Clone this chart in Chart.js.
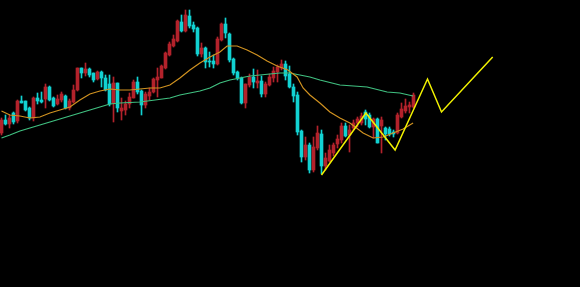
<!DOCTYPE html>
<html>
<head>
<meta charset="utf-8">
<script src="https://cdn.jsdelivr.net/npm/chart.js@4/dist/chart.umd.min.js"></script>
<style>
  html, body { margin: 0; padding: 0; background: #000; }
  #wrap { width: 580px; height: 287px; position: relative; }
</style>
</head>
<body>
<div id="wrap"><canvas id="klineChart"></canvas></div>
<script>
// daily candles (price units are arbitrary)
const opens = [167,180,176,187,179,199,199,192,182,202,200,201,213,202,196,200,204,192,198,210,
  232,227,231,227,221,228,222,216,197,217,189,190,196,202,218,209,195,204,208,220,
  222,232,245,254,259,278,269,284,275,272,246,252,239,239,236,260,276,266,241,228,
  222,197,215,223,217,219,206,215,222,228,232,236,226,213,205,169,143,155,130,152,
  166,134,139,147,156,160,174,165,172,177,177,188,185,173,181,174,172,171,168,167,
  183,189,193,193];
const highs = [182,185,185,188,200,204,199,193,203,207,208,216,214,203,205,208,205,201,215,232,
  232,237,232,227,229,229,225,225,223,217,202,199,207,220,223,210,208,212,222,232,
  235,248,258,265,280,285,290,290,278,273,257,253,248,245,263,277,282,267,242,229,
  223,216,226,231,230,224,218,226,233,235,240,239,234,216,208,170,163,157,163,174,
  170,147,155,157,165,177,177,175,180,183,187,190,187,182,182,183,173,173,170,187,
  197,201,198,207];
const lows = [165,175,172,176,177,197,189,180,179,196,197,192,199,193,195,198,191,190,197,209,
  222,224,223,218,220,213,209,194,178,188,180,185,192,202,206,185,192,200,207,203,
  222,231,244,253,258,268,268,272,268,244,243,232,233,232,235,259,262,238,225,220,
  196,192,213,212,212,203,203,214,218,218,230,220,212,198,165,138,140,127,128,150,
  126,130,138,144,152,157,163,148,170,173,175,175,172,162,157,147,160,164,163,166,
  182,187,187,192];
const closes = [180,176,182,178,199,197,190,182,202,199,198,213,200,194,201,206,192,199,210,232,
  227,231,225,220,228,222,210,196,217,192,192,196,203,218,208,195,206,208,221,223,
  234,247,256,261,279,269,285,274,271,246,252,238,238,236,261,276,267,240,227,222,
  197,216,223,218,219,206,216,223,229,233,236,224,213,204,168,143,155,130,153,167,
  134,142,150,155,161,174,164,170,177,181,184,181,173,181,157,180,166,166,166,185,
  191,194,195,205];

// moving averages, sampled along the drawn curves: [bar index, value]
const maShort = [[0,189],[2.1,185],[4.6,184],[7.1,182],[9.6,183],[12.1,187],[14.6,190],[17.1,193],
  [19.6,200],[22.1,206],[24.6,209],[27.1,211],[29.6,210],[32.1,210],[34.6,211],[37.1,212],
  [39.6,212],[42.1,215],[44.6,222],[47.1,230],[49.6,237],[52.1,243],[54.6,248],[56.4,254],
  [58.9,254],[61.4,250],[63.9,245],[66.4,239],[68.9,234],[71.6,230],[73.9,223],[75.4,212],
  [77.1,205],[79.6,197],[82.1,188],[84.6,182],[87.1,177],[90.4,167],[92.9,162],[95.4,163],
  [97.9,167],[100.4,171],[102.9,177]];
const maLong = [[0,162],[2.1,165],[4.6,169],[7.1,172],[9.6,175],[12.1,178],[14.6,181],[17.1,184],
  [19.6,187],[22.1,190],[24.6,193],[27.1,196],[29.6,197],[34.6,198],[38.4,200],[42.1,202],
  [44.6,205],[47.1,207],[49.6,209],[52.1,212],[54.6,217],[57.1,220],[59.6,222],[62.1,224],
  [64.6,225],[67.1,226],[69.6,227],[72.1,227],[77.1,223],[79.6,220],[84.6,215],[91.4,213],
  [96.4,208],[99.6,207],[102.9,204]];

// hand-drawn wave forecast
const waveX = [80, 91.1, 98.4, 106.5, 110, 122.8];
const waveY = [125, 187, 150, 221, 188, 243];

const upColor = '#b3222b';
const downColor = '#12d2d2';

const candleColors = opens.map((o, i) => closes[i] >= o ? upColor : downColor);
const bodies = opens.map((o, i) => ({ x: i, y: [o, closes[i]] }));
const wicks = opens.map((o, i) => ({ x: i, y: [lows[i], highs[i]] }));

const ctx = document.getElementById('klineChart').getContext('2d');
const klineChart = new Chart(ctx, {
    data: {
        datasets: [
            {
                type: 'line',
                label: 'wave',
                data: waveX.map((x, i) => ({ x: x, y: waveY[i] })),
                borderColor: '#f2f200',
                borderWidth: 1.5,
                pointRadius: 0,
                tension: 0,
                order: 0
            },
            {
                type: 'line',
                label: 'MA short',
                data: maShort.map(p => ({ x: p[0], y: p[1] })),
                borderColor: '#d09220',
                borderWidth: 1.2,
                pointRadius: 0,
                tension: 0,
                order: 1
            },
            {
                type: 'line',
                label: 'MA long',
                data: maLong.map(p => ({ x: p[0], y: p[1] })),
                borderColor: '#40c080',
                borderWidth: 1.2,
                pointRadius: 0,
                tension: 0,
                order: 1
            },
            {
                type: 'bar',
                label: 'body',
                data: bodies,
                backgroundColor: candleColors,
                barThickness: 3,
                minBarLength: 1,
                grouped: false,
                order: 2
            },
            {
                type: 'bar',
                label: 'wick',
                data: wicks,
                backgroundColor: candleColors,
                barThickness: 1,
                grouped: false,
                order: 3
            }
        ]
    },
    options: {
        responsive: true,
        maintainAspectRatio: false,
        animation: false,
        layout: { padding: 0 },
        scales: {
            x: { type: 'linear', min: -0.375, max: 144.625, offset: false, display: false },
            y: { min: 13, max: 300, display: false }
        },
        plugins: {
            legend: { display: false },
            tooltip: { enabled: false }
        }
    }
});
</script>
</body>
</html>
